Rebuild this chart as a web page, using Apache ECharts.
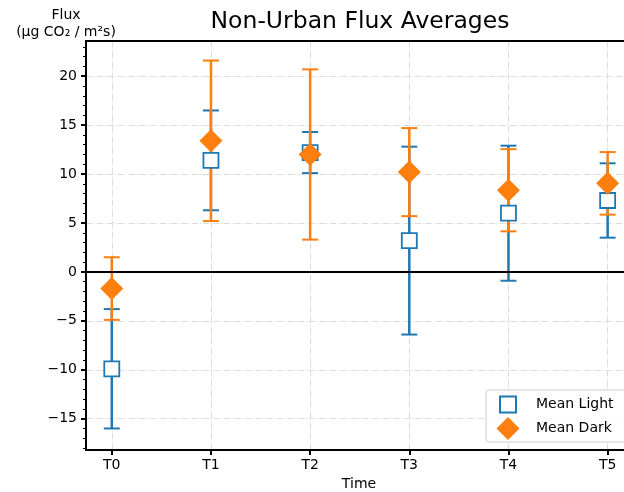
<!DOCTYPE html>
<html>
<head>
<meta charset="utf-8">
<script src="https://cdn.jsdelivr.net/npm/echarts@6/dist/echarts.min.js"></script>
<style>
  html, body { margin: 0; padding: 0; background: #fff; }
  #chart { width: 624px; height: 492px; }
</style>
</head>
<body>
<div id="chart"></div>
<script>
// Non-urban flux: mean light / mean dark with symmetric error bars
const categories = ['T0', 'T1', 'T2', 'T3', 'T4', 'T5']
const lightMean = [-9.9, 11.4, 12.2, 3.2, 6.0, 7.3]
const lightErr = [6.1, 5.1, 2.1, 9.6, 6.9, 3.8]
const darkMean = [-1.7, 13.4, 12.0, 10.2, 8.35, 9.05]
const darkErr = [3.2, 8.2, 8.7, 4.5, 4.2, 3.2]
const yTicks = [-15, -10, -5, 0, 5, 10, 15, 20]
const yMinorTicks = []
for (let v = -18; v <= 23; v++) yMinorTicks.push(v)

const blue = '#1f77b4'
const orange = '#ff7f0e'
const font = '"DejaVu Sans", Verdana, sans-serif'
const gridLine = { color: '#dcdcdc', width: 1, type: [6.4, 1.6, 1, 1.6] }
// smaller square inside a 23px legend box (invisible corner points keep the box size)
const squareIcon = 'path://M0,0h0.01M3.5,3.5h16v16h-16zM23,23h-0.01'

function errRender(color) {
  return function (params, api) {
    const x = api.value(0)
    const lo = api.coord([x, api.value(1)])
    const hi = api.coord([x, api.value(2)])
    const w = 8
    return {
      type: 'group',
      children: [
        { type: 'line', shape: { x1: lo[0], y1: lo[1], x2: hi[0], y2: hi[1] }, style: { stroke: color, lineWidth: 2.5 } },
        { type: 'line', shape: { x1: lo[0] - w, y1: lo[1], x2: lo[0] + w, y2: lo[1] }, style: { stroke: color, lineWidth: 2 } },
        { type: 'line', shape: { x1: hi[0] - w, y1: hi[1], x2: hi[0] + w, y2: hi[1] }, style: { stroke: color, lineWidth: 2 } }
      ]
    }
  }
}

const fmtY = v => (v < 0 ? '\u2212' + Math.abs(v) : String(v))

const chart = echarts.init(document.getElementById('chart'))
chart.setOption({
  animation: false,
  textStyle: { fontFamily: font },
  graphic: [
    { type: 'text', x: 360, y: 22, style: { text: 'Non-Urban Flux Averages', font: '23.5px ' + font, fill: '#000', textAlign: 'center', textVerticalAlign: 'middle' } },
    { type: 'text', x: 66, y: 15, style: { text: 'Flux', font: '14px ' + font, fill: '#000', textAlign: 'center', textVerticalAlign: 'middle' } },
    { type: 'text', x: 66, y: 32, style: { text: '(\u00b5g CO\u2082 / m\u00b2s)', font: '14px ' + font, fill: '#000', textAlign: 'center', textVerticalAlign: 'middle' } }
  ],
  grid: { left: 86, top: 41, right: 0, bottom: 42, containLabel: false, outerBoundsMode: 'none' },
  legend: {
    orient: 'vertical',
    left: 486,
    top: 390,
    padding: [2, 24, 2, 9.5],
    itemGap: 0,
    itemWidth: 23,
    itemHeight: 23,
    backgroundColor: 'rgba(255,255,255,0.85)',
    borderColor: '#cccccc',
    borderWidth: 1,
    borderRadius: 3,
    textStyle: { fontSize: 14, color: '#000', fontFamily: font, padding: [0, 0, 0, 11.5] },
    data: [
      { name: 'Mean Light', icon: squareIcon },
      { name: 'Mean Dark', icon: 'diamond' }
    ]
  },
  xAxis: [
    {
      type: 'value',
      position: 'bottom',
      min: -0.26,
      max: 5.165,
      name: 'Time',
      nameLocation: 'middle',
      nameGap: 25,
      nameTextStyle: { fontSize: 14, color: '#000', fontFamily: font, padding: [0, 0, 0, 8] },
      axisLine: { show: true, onZero: false, lineStyle: { color: '#000', width: 2 } },
      axisTick: { show: true, customValues: categories.map((_, i) => i), length: 5, lineStyle: { color: '#000', width: 2 } },
      axisLabel: { customValues: categories.map((_, i) => i), formatter: v => categories[v], fontSize: 14, color: '#000', margin: 8 },
      splitLine: { show: true, lineStyle: gridLine }
    },
    {
      type: 'value',
      position: 'top',
      min: -0.26,
      max: 5.165,
      axisLine: { show: true, onZero: false, lineStyle: { color: '#000', width: 2 } },
      axisTick: { show: false },
      axisLabel: { show: false },
      splitLine: { show: false }
    }
  ],
  yAxis: [
    {
      type: 'value',
      position: 'left',
      min: -18.2,
      max: 23.6,
      axisLine: { show: true, onZero: false, lineStyle: { color: '#000', width: 2 } },
      axisTick: { show: true, customValues: yTicks, length: 5, lineStyle: { color: '#000', width: 2 } },
      axisLabel: { customValues: yTicks, formatter: fmtY, fontSize: 14, color: '#000', margin: 9 },
      splitLine: { show: true, lineStyle: gridLine }
    },
    {
      type: 'value',
      position: 'left',
      offset: 0,
      min: -18.2,
      max: 23.6,
      axisLine: { show: false, onZero: false },
      axisTick: { show: true, customValues: yMinorTicks, length: 3, lineStyle: { color: '#000', width: 1 } },
      axisLabel: { show: false },
      splitLine: { show: false }
    }
  ],
  series: [
    {
      name: 'lightErr',
      type: 'custom',
      xAxisIndex: 0,
      yAxisIndex: 0,
      renderItem: errRender(blue),
      data: lightMean.map((m, i) => [i, m - lightErr[i], m + lightErr[i]]),
      z: 2
    },
    {
      name: 'darkErr',
      type: 'custom',
      xAxisIndex: 0,
      yAxisIndex: 0,
      renderItem: errRender(orange),
      data: darkMean.map((m, i) => [i, m - darkErr[i], m + darkErr[i]]),
      z: 3
    },
    {
      name: 'zero',
      type: 'line',
      data: [],
      z: 4,
      markLine: {
        silent: true,
        symbol: 'none',
        label: { show: false },
        lineStyle: { color: '#000', width: 2, type: 'solid' },
        data: [{ yAxis: 0 }]
      }
    },
    {
      name: 'Mean Light',
      type: 'scatter',
      xAxisIndex: 0,
      yAxisIndex: 0,
      symbol: 'rect',
      symbolSize: 15,
      itemStyle: { color: '#fff', borderColor: blue, borderWidth: 1.8, opacity: 1 },
      data: lightMean.map((m, i) => [i, m]),
      z: 5
    },
    {
      name: 'Mean Dark',
      type: 'scatter',
      xAxisIndex: 0,
      yAxisIndex: 0,
      symbol: 'diamond',
      symbolSize: 23,
      itemStyle: { color: orange, opacity: 1 },
      data: darkMean.map((m, i) => [i, m]),
      z: 6
    }
  ]
})
</script>
</body>
</html>
